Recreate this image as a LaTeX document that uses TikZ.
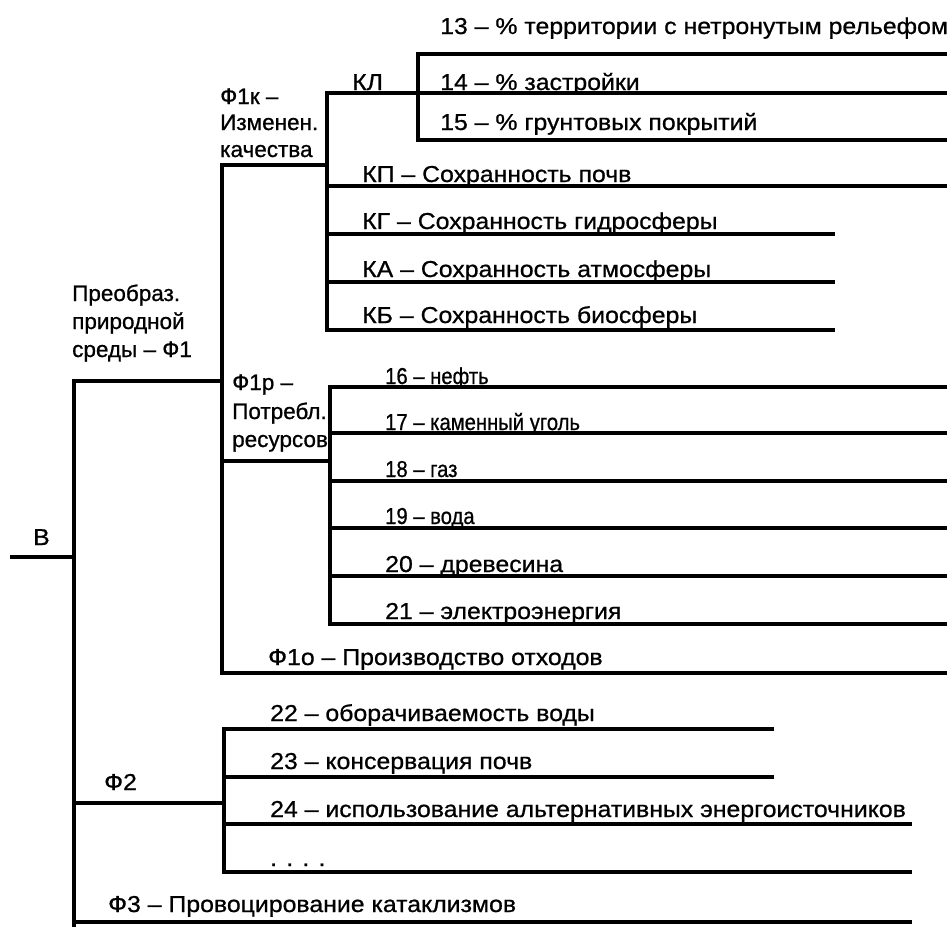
\documentclass[tikz,border=0pt]{standalone}
\usepackage{fontspec}
\setmainfont{Liberation Sans}
\newfontfamily\widef{Liberation Sans}[FakeStretch=1.08,FakeBold=0.8]
\newfontfamily\narrowf{Liberation Sans}[FakeBold=0.8]
\newfontfamily\condf{Liberation Sans}[FakeStretch=0.88,FakeBold=0.8]
\begin{document}
\begin{tikzpicture}[x=1pt,y=-1pt,
  ln/.style={line width=3.4pt,line cap=rect},
  lbl/.style={anchor=base west,inner sep=0pt,font=\widef\fontsize{23}{28}\selectfont},
  cnd/.style={anchor=base west,inner sep=0pt,font=\condf\fontsize{23}{28}\selectfont},
  ml/.style={anchor=base west,inner sep=0pt,font=\narrowf\fontsize{22.5}{28}\selectfont}]
\useasboundingbox (0,0) rectangle (947,926);
% junction coordinates
\coordinate (bIn) at (12,557);
\coordinate (t0) at (74,381);
\coordinate (t1) at (74,557);
\coordinate (t2) at (74,803);
\coordinate (t3) at (74,926);
\coordinate (f1a) at (222,381);
\coordinate (f1k) at (222,165);
\coordinate (f1r) at (222,461);
\coordinate (f1o) at (222,673);
\coordinate (kA) at (327,165);
\coordinate (kTop) at (327,93);
\coordinate (kBot) at (327,330);
\coordinate (kl) at (418,93);
\coordinate (klTop) at (418,54);
\coordinate (klBot) at (418,140);
\coordinate (rA) at (330,461);
\coordinate (rTop) at (330,387);
\coordinate (rBot) at (330,624);
\coordinate (f2a) at (224,803);
\coordinate (f2Top) at (224,729);
\coordinate (f2Bot) at (224,872);
\coordinate (f3a) at (74,922);
% end points
\coordinate (e13) at (947,54);
\coordinate (e14) at (947,93);
\coordinate (e15) at (947,140);
\coordinate (ekp) at (947,186);
\coordinate (ekg) at (833,234);
\coordinate (eka) at (833,282);
\coordinate (ekb) at (833,330);
\coordinate (e16) at (947,387);
\coordinate (e17) at (947,433);
\coordinate (e18) at (947,481);
\coordinate (e19) at (947,528);
\coordinate (e20) at (947,576);
\coordinate (e21) at (947,624);
\coordinate (e1o) at (947,673);
\coordinate (e22) at (772,729);
\coordinate (e23) at (772,777);
\coordinate (e24) at (910,824);
\coordinate (edots) at (910,872);
\coordinate (e3) at (910,922);
% lines
\draw[ln] (bIn) -- (t1);
\draw[ln] (t0) -- (t3);
\draw[ln] (t0) -- (f1a);
\draw[ln] (f1k) -- (f1o);
\draw[ln] (f1k) -- (kA);
\draw[ln] (kTop) -- (kBot);
\draw[ln] (kTop) -- (e14);
\draw[ln] (klTop) -- (klBot);
\draw[ln] (klTop) -- (e13);
\draw[ln] (klBot) -- (e15);
\draw[ln] (327,186) -- (ekp);
\draw[ln] (327,234) -- (ekg);
\draw[ln] (327,282) -- (eka);
\draw[ln] (kBot) -- (ekb);
\draw[ln] (f1r) -- (rA);
\draw[ln] (rTop) -- (rBot);
\draw[ln] (rTop) -- (e16);
\draw[ln] (330,433) -- (e17);
\draw[ln] (330,481) -- (e18);
\draw[ln] (330,528) -- (e19);
\draw[ln] (330,576) -- (e20);
\draw[ln] (rBot) -- (e21);
\draw[ln] (f1o) -- (e1o);
\draw[ln] (t2) -- (f2a);
\draw[ln] (f2Top) -- (f2Bot);
\draw[ln] (f2Top) -- (e22);
\draw[ln] (224,777) -- (e23);
\draw[ln] (224,824) -- (e24);
\draw[ln] (f2Bot) -- (edots);
\draw[ln] (f3a) -- (e3);
% labels
\node[lbl] (lB) at (33,545) {В};
\node[ml] (lf1a) at (72,301) {Преобраз.};
\node[ml] (lf1b) at (72,329) {природной};
\node[ml] (lf1c) at (72,357) {среды – Ф1};
\node[ml] (lkA) at (220,104) {Ф1к –};
\node[ml] (lkB) at (220,130) {Изменен.};
\node[ml] (lkC) at (220,157) {качества};
\node[lbl] (lkl) at (352,90) {КЛ};
\node[lbl] (l13) at (440,34) {13 – \% территории с нетронутым рельефом};
\node[lbl] (l14) at (440,90) {14 – \% застройки};
\node[lbl] (l15) at (440,130) {15 – \% грунтовых покрытий};
\node[lbl] (lkp) at (362,182) {КП – Сохранность почв};
\node[lbl] (lkg) at (362,229) {КГ – Сохранность гидросферы};
\node[lbl] (lka) at (362,277) {КА – Сохранность атмосферы};
\node[lbl] (lkb) at (362,323) {КБ – Сохранность биосферы};
\node[ml] (lrA) at (232,390) {Ф1р –};
\node[ml] (lrB) at (232,419) {Потребл.};
\node[ml] (lrC) at (232,447) {ресурсов};
\node[cnd] (l16) at (385,384) {16 – нефть};
\node[cnd] (l17) at (385,430) {17 – каменный уголь};
\node[cnd] (l18) at (385,477) {18 – газ};
\node[cnd] (l19) at (385,524) {19 – вода};
\node[lbl] (l20) at (385,572) {20 – древесина};
\node[lbl] (l21) at (385,619) {21 – электроэнергия};
\node[lbl] (l1o) at (268,665) {Ф1о – Производство отходов};
\node[lbl] (lf2) at (104,790) {Ф2};
\node[lbl] (l22) at (270,721) {22 – оборачиваемость воды};
\node[lbl] (l23) at (270,769) {23 – консервация почв};
\node[lbl] (l24) at (270,817) {24 – использование альтернативных энергоисточников};
\node[lbl] (ldots) at (270,866) {. . . .};
\node[lbl] (lf3) at (108,912) {Ф3 – Провоцирование катаклизмов};
\end{tikzpicture}
\end{document}
